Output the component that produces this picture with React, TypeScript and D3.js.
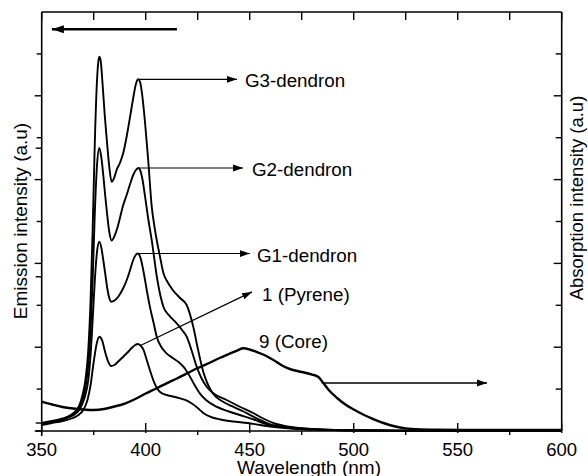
import React, { useEffect } from "react";
import * as d3 from "d3";

type Pt = [number, number];

// Emission spectra (wavelength nm, intensity a.u.)
const g3Dendron: Pt[] = [
  [350, 1.91], [355, 2.39], [360, 2.98], [365, 4.18], [368, 5.97], [369.5, 8.35], [371, 12.17],
  [372.4, 19.33], [373.5, 31.26], [374.5, 47.97], [375.5, 68.26], [376.6, 83.77], [377.2, 88.07],
  [377.7, 89.33], [378.3, 88.54], [379.3, 82.58], [380.3, 75.42], [381.3, 69.45], [382.4, 63.48],
  [383.6, 59.5], [384.8, 60.38], [386, 62.29], [387.6, 63.96], [389.2, 66.35], [390.9, 70.41],
  [392.5, 75.01], [394, 79.47], [395.3, 82.82], [396.4, 83.94], [397.3, 83.29], [398.5, 79.47],
  [399.7, 73.51], [401.2, 64.68], [402.9, 53.53], [404.1, 49.16], [405.3, 45.58], [407, 41.29],
  [408.5, 37.71], [410.5, 35.56], [413, 33.65], [416.5, 31.74], [419.7, 30.07], [422.9, 24.82],
  [425, 19.81], [427.7, 14.08], [430, 10.98], [432.5, 8.83], [437, 7.04], [442, 5.8], [447, 4.65],
  [451.7, 3.41], [456, 2.39], [460, 1.55], [468, 0.84], [480, 0.41], [495, 0.19], [520, 0.1], [600, 0.05],
];

const g2Dendron: Pt[] = [
  [350, 1.79], [355, 2.27], [360, 2.86], [365, 3.94], [368, 5.49], [369.5, 7.4], [371, 10.26],
  [372.4, 15.75], [373.5, 24.11], [374.5, 36.04], [375.5, 51.55], [376.6, 63.48], [377.7, 67.54],
  [378.7, 65.16], [379.6, 61.1], [380.5, 56.32], [381.5, 51.55], [382.5, 47.49], [383.6, 45.47],
  [385, 46.54], [386.5, 48.69], [389.2, 53.94], [391, 56.56], [392.5, 58.95], [394.2, 61.34],
  [395.5, 62.41], [396.4, 62.77], [397.3, 62.29], [398.5, 59.9], [399.7, 55.92], [401.3, 50.36],
  [402.9, 45.58], [405.3, 36.99], [407, 32.46], [408.5, 29.67], [411.5, 27.45], [414.9, 25.7],
  [417.5, 24.11], [419.7, 22.51], [422, 19.33], [424.5, 15.35], [427, 12.41], [429.3, 10.57],
  [433, 8.83], [438.9, 7.4], [445, 5.85], [451.6, 4.3], [457, 2.86], [462, 1.79], [470, 0.95],
  [480, 0.48], [495, 0.19], [520, 0.1], [600, 0.05],
];

const g1Dendron: Pt[] = [
  [350, 1.67], [355, 2.15], [360, 2.74], [365, 3.7], [368, 5.01], [369.5, 6.44], [371, 8.59],
  [372.4, 12.17], [373.5, 18.14], [374.5, 26.49], [375.6, 36.52], [376.7, 43.2], [377.7, 45.18],
  [378.7, 43.68], [379.6, 40.81], [380.5, 37.71], [381.5, 34.13], [382.5, 31.74], [383.4, 30.86],
  [385, 31.15], [386.8, 32.05], [389, 33.89], [390.9, 36.04], [392.5, 38.42], [394, 40.81],
  [395.2, 42.0], [396.1, 42.36], [397.2, 41.77], [398.9, 38.19], [400.5, 33.65], [402, 29.67],
  [403.7, 26.01], [405.3, 22.51], [407.5, 20.05], [410, 18.54], [413, 17.42], [416.5, 16.16],
  [419, 14.8], [421.3, 12.96], [423.5, 10.98], [426, 8.99], [429, 7.4], [434, 5.8], [440, 4.65],
  [445.3, 3.82], [452, 2.74], [458.2, 1.6], [465, 0.95], [475, 0.48], [490, 0.24], [520, 0.1], [600, 0.05],
];

const pyrene: Pt[] = [
  [350, 1.43], [355, 1.91], [360, 2.39], [365, 3.1], [368, 3.94], [370, 5.01], [372, 7.4],
  [373.5, 10.98], [375, 16.47], [376.5, 21.0], [377.7, 22.5], [379, 21.7], [380.5, 18.85],
  [382, 16.47], [383.3, 15.51], [385, 15.75], [387, 16.71], [389.2, 17.73], [391.5, 18.85],
  [393.5, 19.93], [395, 20.53], [396.2, 20.76], [397.5, 20.41], [399, 19.33], [400.5, 16.95],
  [402, 14.56], [404, 11.69], [406, 9.79], [408, 8.95], [410, 8.59], [413, 8.23], [416.5, 7.8],
  [419, 7.4], [422, 6.61], [425, 5.49], [428, 4.18], [432, 3.22], [436, 2.74], [442, 2.27],
  [449, 1.91], [455, 1.43], [462, 0.95], [470, 0.6], [480, 0.36], [500, 0.17], [520, 0.1], [600, 0.05],
];

// Absorption spectrum of the core (right axis)
const core: Pt[] = [
  [350, 6.99], [355, 6.32], [360, 5.73], [365, 5.37], [370, 5.13], [375, 5.01], [380, 5.25],
  [385, 5.85], [390, 6.56], [395, 7.64], [400, 8.95], [405, 10.14], [410, 11.38], [415, 12.53],
  [420, 13.77], [425, 15.04], [430, 16.11], [435, 17.3], [440, 18.38], [444, 19.21], [447, 19.74],
  [450, 19.45], [453, 18.93], [457, 18.14], [461, 17.06], [466, 15.51], [470, 14.68], [475, 14.08],
  [480, 13.48], [483, 12.89], [485, 11.69], [488, 9.79], [492, 7.88], [496, 6.32], [500, 5.13],
  [505, 3.82], [510, 2.74], [515, 1.79], [520, 1.07], [525, 0.64], [530, 0.41], [540, 0.29],
  [560, 0.24], [600, 0.24],
];

const xMajorTicks = [350, 400, 450, 500, 550, 600];
const xMinorTicks = [375, 425, 475, 525, 575];
const leftTicks = [0, 10, 20, 30, 40, 50, 60, 70, 80, 90];
const leftExtraTicks = [1.9, 36.8, 67.5];
const rightTicks = [0, 10, 20, 30, 40, 50, 60, 70, 80, 90];

// Annotations
const labels = ["G3-dendron", "G2-dendron", "G1-dendron", "1 (Pyrene)", "9 (Core)"];
const labelArrowFrom: (Pt | null)[] = [[396.4, 83.94], [396.4, 62.77], [396.1, 42.36], [397.5, 20.4], null];
const labelArrowTo: (Pt | null)[] = [[443.9, 83.94], [446.8, 62.77], [450.1, 42.36], [451.1, 33.2], null];
const labelPos: Pt[] = [[447.7, 83.6], [451.1, 62.5], [453.5, 42.0], [455.9, 32.5], [454.5, 21.3]];
const emissionArrow: [Pt, Pt] = [[415, 95.9], [354.9, 95.9]];
const absorptionArrow: [Pt, Pt] = [[484.6, 11.46], [564.1, 11.46]];

const W = 588;
const H = 476;
const FONT = "'Liberation Sans', Arial, Helvetica, sans-serif";

export default function App() {
  useEffect(() => {
    document.body.style.margin = "0";
  }, []);

  const x = d3.scaleLinear().domain([350, 600]).range([41.7, 561.7]);
  const y = d3.scaleLinear().domain([0, 100]).range([431, 12]);

  const line = d3
    .line<Pt>()
    .x((d) => x(d[0]))
    .y((d) => y(d[1]))
    .curve(d3.curveMonotoneX);

  const x0 = x(350);
  const x1 = x(600);
  const y0 = y(0);
  const yTop = y(100);

  const arrowLine = (a: Pt, b: Pt, key: string, sw: number, marker: string) => (
    <line
      key={key}
      x1={x(a[0])}
      y1={y(a[1])}
      x2={x(b[0])}
      y2={y(b[1])}
      stroke="#000"
      strokeWidth={sw}
      markerEnd={`url(#${marker})`}
    />
  );

  return (
    <svg
      width={W}
      height={H}
      viewBox={`0 0 ${W} ${H}`}
      style={{ position: "absolute", left: 0, top: 0, display: "block", background: "#fff" }}
      fontFamily={FONT}
    >
      <defs>
        <marker id="ah" markerUnits="userSpaceOnUse" markerWidth="12" markerHeight="10" refX="10" refY="4" orient="auto">
          <path d="M0,0.6 L10,4 L0,7.4 Z" fill="#000" />
        </marker>
        <marker id="ahBig" markerUnits="userSpaceOnUse" markerWidth="14" markerHeight="10" refX="12" refY="4.5" orient="auto">
          <path d="M0,0.5 L12,4.5 L0,8.5 Z" fill="#000" />
        </marker>
      </defs>

      {/* frame */}
      <line x1={x0} y1={yTop} x2={x0} y2={y0 + 5} stroke="#000" strokeWidth={1.6} />
      <line x1={x0 - 6} y1={y0} x2={x1} y2={y0} stroke="#000" strokeWidth={1.6} />
      <line x1={x0} y1={yTop} x2={x1} y2={yTop} stroke="#000" strokeWidth={1.6} />
      <line x1={x1} y1={yTop} x2={x1} y2={y0} stroke="#000" strokeWidth={1.6} />

      {/* bottom ticks */}
      {xMajorTicks.map((t) => (
        <line key={"bM" + t} x1={x(t)} x2={x(t)} y1={y0 - 8} y2={y0 + 2} stroke="#000" strokeWidth={1.4} />
      ))}
      {xMinorTicks.map((t) => (
        <line key={"bm" + t} x1={x(t)} x2={x(t)} y1={y0} y2={y0 + 4} stroke="#000" strokeWidth={1.4} />
      ))}
      {/* top ticks */}
      {[...xMajorTicks, ...xMinorTicks].map((t) => (
        <line key={"t" + t} x1={x(t)} x2={x(t)} y1={yTop} y2={yTop + 8} stroke="#000" strokeWidth={1.4} />
      ))}
      {/* left ticks (outward) */}
      {leftTicks.map((t, i) => (
        <line key={"l" + t} x1={x0 - (i % 2 === 0 ? 7 : 5)} x2={x0} y1={y(t)} y2={y(t)} stroke="#000" strokeWidth={1.4} />
      ))}
      {leftExtraTicks.map((t) => (
        <line key={"le" + t} x1={x0 - 6} x2={x0} y1={y(t)} y2={y(t)} stroke="#000" strokeWidth={1.4} />
      ))}
      {/* right ticks (inward) */}
      {rightTicks.map((t, i) => (
        <line key={"r" + t} x1={x1 - (i % 2 === 0 ? 8 : 6)} x2={x1} y1={y(t)} y2={y(t)} stroke="#000" strokeWidth={1.4} />
      ))}

      {/* tick labels */}
      {xMajorTicks.map((t) => (
        <text key={"xl" + t} x={x(t)} y={455.5} textAnchor="middle" fontSize={18.5} fill="#000">
          {t}
        </text>
      ))}
      <text x={309} y={474} textAnchor="middle" fontSize={19} fill="#000">
        Wavelength (nm)
      </text>
      <text transform="translate(27,221) rotate(-90)" textAnchor="middle" fontSize={19} fill="#000">
        Emission intensity (a.u)
      </text>
      <text transform="translate(583,198) rotate(-90)" textAnchor="middle" fontSize={18.5} fill="#000">
        Absorption intensity (a.u)
      </text>

      {/* curves */}
      {[g3Dendron, g2Dendron, g1Dendron, pyrene].map((s, i) => (
        <path key={"c" + i} d={line(s) || ""} fill="none" stroke="#000" strokeWidth={1.9} strokeLinejoin="round" />
      ))}
      <path d={line(core) || ""} fill="none" stroke="#000" strokeWidth={2.4} strokeLinejoin="round" />

      {/* annotations */}
      {labels.map((lab, i) => {
        const from = labelArrowFrom[i];
        const to = labelArrowTo[i];
        return (
          <g key={"a" + i}>
            {from && to ? arrowLine(from, to, "al" + i, 1.2, "ah") : null}
            <text x={x(labelPos[i][0])} y={y(labelPos[i][1])} dy="0.35em" fontSize={18.8} fill="#000">
              {lab}
            </text>
          </g>
        );
      })}
      {arrowLine(emissionArrow[0], emissionArrow[1], "emA", 2.6, "ahBig")}
      {arrowLine(absorptionArrow[0], absorptionArrow[1], "abA", 1.6, "ah")}
    </svg>
  );
}
